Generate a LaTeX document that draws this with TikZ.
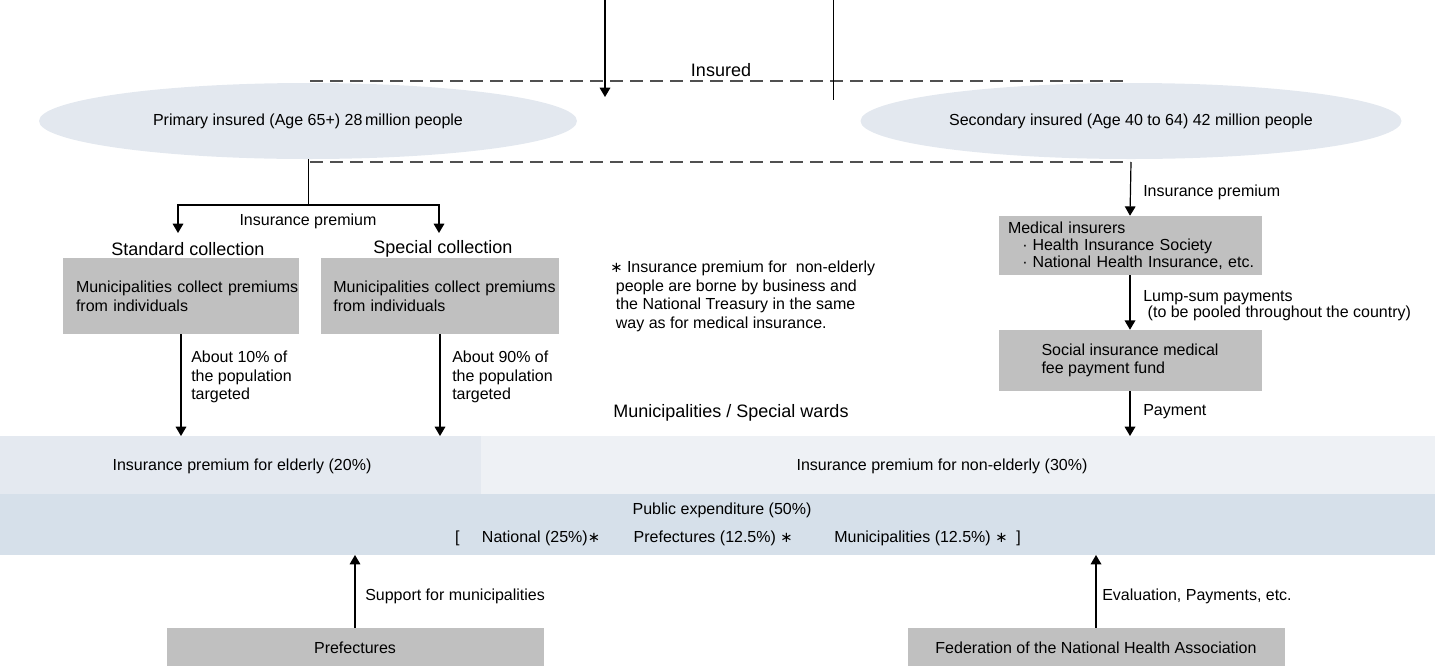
\documentclass[tikz,border=0pt]{standalone}
\usepackage{fontspec}
\setmainfont{Liberation Sans}
\newfontfamily\dvs{DejaVu Sans}
\usetikzlibrary{arrows.meta,shapes.geometric}
\definecolor{ellfill}{HTML}{E3E8EF}
\definecolor{bandL}{HTML}{E4E9F0}
\definecolor{bandR}{HTML}{EEF1F5}
\definecolor{bandP}{HTML}{D6E0EA}
\definecolor{boxgray}{HTML}{C0C0C0}
\definecolor{dashgray}{HTML}{505050}
\newcommand{\myast}{{\dvs\fontsize{11}{11}\selectfont\char"2217}}
\begin{document}
\begin{tikzpicture}[x=0.75pt,y=-0.75pt,
  every node/.style={font=\fontsize{12}{14.25}\selectfont, inner sep=0pt},
  big/.style={font=\fontsize{13.5}{15}\selectfont},
  ell/.style={ellipse, fill=ellfill, minimum width=403.5pt, minimum height=57pt},
  graybox/.style={rectangle, fill=boxgray, align=left},
  lab/.style={anchor=west, align=left},
  arr/.style={line width=0.9pt, -{Triangle[length=7pt,width=8pt]}},
  ln/.style={line width=0.75pt},
  dsh/.style={line width=1pt, dashgray, dash pattern=on 9.75pt off 5.25pt}]
\useasboundingbox (0,0) rectangle (1435,665);

% bands
\fill[bandL] (0,436) rectangle (481,494);
\fill[bandR] (481,436) rectangle (1435,494);
\fill[bandP] (0,494) rectangle (1435,555);
\coordinate (bandtop) at (0,436);
\coordinate (bandbot) at (0,555);
\node (elderly) at (242,466) {Insurance premium for elderly (20\%)};
\node (nonelderly) at (942,466) {Insurance premium for non-elderly (30\%)};
\node (public) at (722,510) {Public expenditure (50\%)};
\node (shares) at (738,538) {[\hspace{1.4em}National (25\%)\myast\hspace{2.1em}Prefectures (12.5\%) \myast\hspace{2.6em}Municipalities (12.5\%) \myast\ \ ]};

% top
\coordinate (t1) at (605,0);
\coordinate (t1e) at (605,97);
\coordinate (t2) at (833,0);
\coordinate (t2e) at (833,100);
\node[big] (insured) at (721,70) {Insured};
\coordinate (d1a) at (310,81);
\coordinate (d1b) at (1125,81);
\draw[dsh] (d1a) -- (d1b);
\draw[arr] (t1) -- (t1e);
\draw[ln] (t2) -- (t2e);

\node[ell] (ellL) at (308,121) {Primary insured (Age 65+) 28\,million people};
\node[ell, minimum width=405.75pt] (ellR) at (1131,121) {Secondary insured (Age 40 to 64) 42 million people};
\coordinate (d2a) at (310,162);
\coordinate (d2b) at (1130,162);
\draw[dsh] (d2a) -- (d2b);

% left branch
\coordinate (split) at (308,205);
\coordinate (stdin) at (178,233);
\coordinate (spcin) at (439,233);
\draw[ln] (ellL.south) -- (split);
\draw[arr] (split) -| (stdin);
\draw[arr] (split) -| (spcin);
\node (prem1) at (308,221) {Insurance premium};
\node[big] (stdlab) at (188,249) {Standard collection};
\node[big] (spclab) at (443,249) {Special collection};

\node[graybox, minimum width=177pt, minimum height=57pt, text width=157.5pt] (box1) at (181,296) {\mbox{Municipalities collect premiums}\\from individuals};
\node[graybox, minimum width=179pt, minimum height=57pt, text width=160pt] (box2) at (440,296) {\mbox{Municipalities collect premiums}\\from individuals};
\draw[arr] (box1.south) -- (box1.south |- bandtop);
\draw[arr] (box2.south) -- (box2.south |- bandtop);
\node[lab, font=\fontsize{12}{13.9}\selectfont] (p10) at (191,377) {About 10\% of\\the population\\targeted};
\node[lab, font=\fontsize{12}{13.9}\selectfont] (p90) at (452,377) {About 90\% of\\the population\\targeted};

% note
\node[lab, font=\fontsize{12}{14}\selectfont] (note) at (610,296.5) {\myast\ Insurance premium for\ \ non-elderly\\\hspace{0.35em}people are borne by business and\\\hspace{0.35em}the National Treasury in the same\\\hspace{0.35em}way as for medical insurance.};
\node[big] (muni) at (731,413) {Municipalities / Special wards};

% right branch
\node[graybox, minimum width=197.25pt, minimum height=44.25pt, text width=183pt, font=\fontsize{12}{12.75}\selectfont] (med) at (1130,245.5) {Medical insurers\\\mbox{\hspace{0.9em}\textperiodcentered\hspace{0.3em}Health Insurance Society}\\\mbox{\hspace{0.9em}\textperiodcentered\hspace{0.3em}National Health Insurance, etc.}};
\node[graybox, minimum width=197.25pt, minimum height=45.75pt, font=\fontsize{12}{13.5}\selectfont] (soc) at (1130,360.5) {Social insurance medical\\fee payment fund};
\draw[arr] (ellR.south |- d2b) -- (med.north);
\draw[arr] (med.south) -- (soc.north);
\draw[arr] (soc.south) -- (soc.south |- bandtop);
\node[lab] (prem2) at (1143,192) {Insurance premium};
\node[lab, font=\fontsize{12}{12}\selectfont] (lump) at (1143,306) {Lump-sum payments\\\ (to be pooled throughout the country)};
\node[lab] (pay) at (1143,412) {Payment};

% bottom
\node[rectangle, fill=boxgray, minimum width=282.75pt, minimum height=30pt] (pref) at (355,648) {Prefectures};
\node[rectangle, fill=boxgray, minimum width=282.75pt, minimum height=30pt] (fed) at (1096,648) {Federation of the National Health Association};
\draw[arr] (pref.north) -- (pref.north |- bandbot);
\draw[arr] (fed.north) -- (fed.north |- bandbot);
\node[lab] (supp) at (365,596) {Support for municipalities};
\node[lab] (eval) at (1102,596) {Evaluation, Payments, etc.};
\end{tikzpicture}
\end{document}
